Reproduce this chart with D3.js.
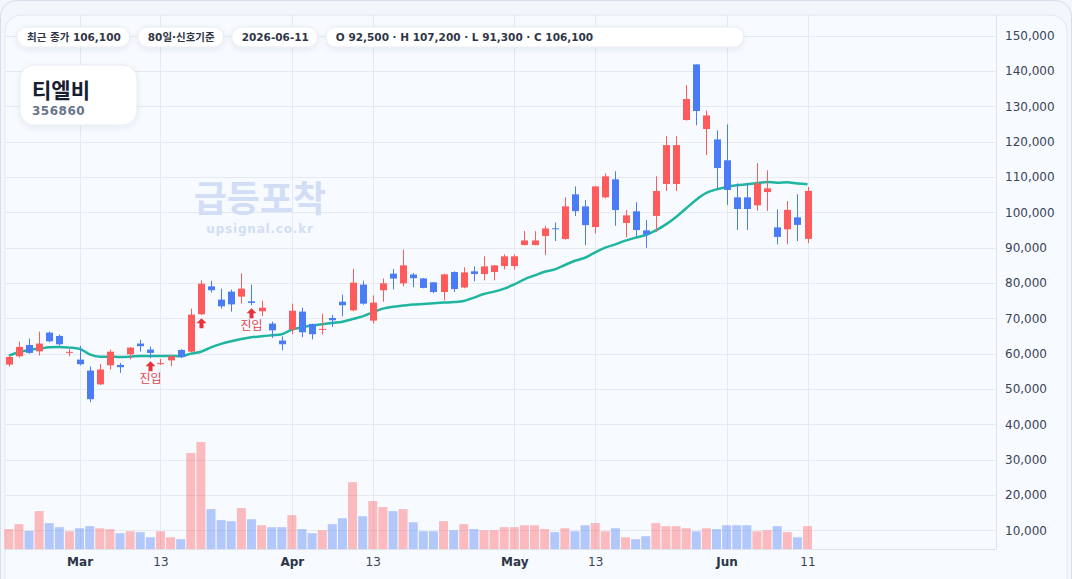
<!DOCTYPE html>
<html lang="ko">
<head>
<meta charset="utf-8">
<script src="https://cdn.jsdelivr.net/npm/d3@7"></script>
<style>
  html, body { margin: 0; padding: 0; background: #f3f6fb; }
  svg { display: block; font-family: "DejaVu Sans", "Noto Sans CJK KR", sans-serif; }
</style>
</head>
<body>
<svg id="chart"></svg>
<script>
"use strict";

// ---- data (80 trading days) ----
const dates = [
  "02-19","02-20","02-23","02-24","02-25","02-26","02-27",
  "03-03","03-04","03-05","03-06","03-09","03-10","03-11","03-12","03-13",
  "03-16","03-17","03-18","03-19","03-20","03-23","03-24","03-25","03-26","03-27","03-30","03-31",
  "04-01","04-02","04-03","04-06","04-07","04-08","04-09","04-10","04-13","04-14","04-15","04-16","04-17",
  "04-20","04-21","04-22","04-23","04-24","04-27","04-28","04-29","04-30",
  "05-01","05-04","05-05","05-06","05-07","05-08","05-11","05-12","05-13","05-14","05-15",
  "05-18","05-19","05-20","05-21","05-22","05-25","05-26","05-27","05-28","05-29",
  "06-01","06-02","06-03","06-04","06-05","06-08","06-09","06-10","06-11"
].map(d => "2026-" + d);

const opens = [
  56900, 59250, 62450, 60650, 65950, 65000, 60400, 58300, 55200, 51300,
  56700, 56800, 59800, 62850, 61150, 57100, 58100, 61050, 60550, 71150,
  79050, 75300, 77550, 76150, 74800, 72000, 68500, 63700, 66800, 71900,
  68400, 66900, 70100, 74700, 72250, 79550, 69350, 77950, 82650, 79900,
  82400, 81300, 80200, 77450, 83100, 78750, 83300, 82550, 83100, 84800,
  84800, 90750, 90750, 93300, 95500, 92450, 105100, 101700, 95850, 104250,
  109350, 97000, 100300, 94900, 99000, 108050, 108050, 126150, 141900, 123600,
  120650, 114750, 104250, 104250, 102000, 105750, 95750, 95200, 98600, 92500
];
const highs = [
  59450, 63400, 64250, 66250, 66250, 65400, 61400, 62200, 56350, 57100,
  61150, 57350, 61900, 63950, 62000, 58500, 59650, 61250, 72750, 80750,
  80650, 78400, 78100, 82750, 79550, 75000, 69050, 64900, 74150, 73000,
  68500, 71300, 70950, 76700, 84050, 80650, 76500, 81250, 83950, 89450,
  82800, 81400, 80200, 82650, 83300, 84450, 84700, 87550, 85100, 88100,
  88100, 94700, 94700, 96200, 97150, 104250, 107350, 103500, 107400, 111000,
  111650, 100700, 102850, 97850, 110200, 121600, 121600, 136050, 141900, 128850,
  123200, 124900, 108200, 108200, 113950, 111900, 100850, 103200, 105100, 107200
];
const lows = [
  56350, 58900, 60000, 59450, 63200, 62250, 59250, 56700, 46250, 51100,
  55500, 54550, 58400, 60550, 58700, 56800, 56450, 58800, 60400, 70900,
  77300, 72750, 71900, 74150, 73700, 70650, 64450, 60950, 65550, 64650,
  64050, 65400, 67550, 70550, 72000, 73850, 68500, 74700, 78200, 79050,
  78800, 78500, 77100, 75100, 77450, 78500, 80450, 80750, 80750, 83850,
  83850, 90650, 90650, 87900, 91900, 92300, 98950, 90750, 94050, 103950,
  96200, 92950, 93050, 89950, 94450, 106050, 106050, 126000, 124700, 116250,
  106800, 102100, 95000, 95000, 100500, 100400, 90950, 90950, 91900, 91300
];
const closes = [
  59050, 61900, 60200, 62850, 63500, 62650, 60500, 57000, 47100, 55500,
  60550, 56150, 61700, 62100, 60200, 57300, 59250, 59050, 71050, 79800,
  77950, 73400, 73950, 78400, 74350, 73000, 66600, 62650, 72150, 66050,
  65500, 67000, 69450, 73700, 80100, 74150, 74450, 79900, 81250, 85000,
  81350, 78600, 77450, 82450, 78300, 83000, 82550, 84700, 85000, 87550,
  87550, 92050, 92050, 95450, 95300, 101700, 100350, 96400, 107350, 110200,
  100650, 99150, 95000, 93800, 106050, 119050, 119050, 132100, 128700, 127450,
  112550, 106350, 100950, 100950, 108200, 106800, 93050, 100700, 96450, 106100
];
const volumes = [
  10300, 11700, 9800, 15400, 12000, 10850, 9700, 10550, 11150, 10550,
  10300, 9150, 9700, 9450, 8000, 9700, 8000, 7450, 31850, 34950,
  15950, 12850, 12550, 16250, 13100, 11400, 10850, 10850, 14250, 10300,
  9150, 10000, 11700, 13400, 23600, 13950, 18250, 16550, 15400, 15950,
  12250, 9700, 9700, 12550, 10000, 11700, 10300, 10000, 10000, 10850,
  10850, 11400, 11400, 10300, 9450, 10550, 9700, 11400, 12000, 9700,
  10550, 8000, 7450, 8300, 12000, 11150, 11150, 10550, 9700, 10550,
  10300, 11400, 11400, 11400, 9700, 10000, 11150, 9450, 8000, 11150
];
// moving average line as drawn on the chart
const maLine = [
  59450, 60400, 61050, 61400, 61800, 61900, 61700, 61350, 59800, 59150,
  59150, 59050, 59150, 59350, 59350, 59350, 59350, 59250, 60000, 60550,
  61750, 62750, 63500, 64150, 64650, 64900, 65200, 65500, 66800, 67450,
  67950, 68300, 68700, 69050, 69800, 70550, 71700, 72750, 73300, 73600,
  73900, 74050, 74250, 74450, 74600, 74900, 75850, 76900, 77550, 78400,
  79600, 81050, 82150, 83200, 83850, 85100, 86300, 87150, 88700, 90000,
  90950, 92000, 92850, 93600, 94900, 96600, 98700, 101150, 103600, 105500,
  106500, 107200, 107650, 107950, 108300, 108600, 108400, 108500, 108150, 107950
];

const markerDates = ["2026-03-12", "2026-03-19", "2026-03-26"];
const markerLabels = ["진입", "", "진입"];

const priceTicks = [150000, 140000, 130000, 120000, 110000, 100000, 90000, 80000,
                    70000, 60000, 50000, 40000, 30000, 20000, 10000];
const timeTicks = ["2026-03-03", "2026-03-13", "2026-04-01", "2026-04-13",
                   "2026-05-01", "2026-05-13", "2026-06-01", "2026-06-11"];
const timeTickLabels = ["Mar", "13", "Apr", "13", "May", "13", "Jun", "11"];
const timeTickMajor = [true, false, true, false, true, false, true, false];

const pills = ["최근 종가 106,100", "80일·신호기준", "2026-06-11",
               "O 92,500 · H 107,200 · L 91,300 · C 106,100"];

// ---- layout ----
const W = 1072, H = 579;
const plot = { left: 5, top: 15, right: 996, bottom: 549 };

const UP = "#ff5a5c", DOWN = "#4a7cf6", MA = "#1fb5a0";

const svg = d3.select("#chart").attr("width", W).attr("height", H);

const defs = svg.append("defs");
const shadow = defs.append("filter").attr("id", "shadow")
  .attr("x", "-20%").attr("y", "-40%").attr("width", "140%").attr("height", "200%");
shadow.append("feDropShadow").attr("dx", 0).attr("dy", 2).attr("stdDeviation", 3)
  .attr("flood-color", "#1e3050").attr("flood-opacity", 0.08);

// outer card + inner chart panel
svg.append("rect")
  .attr("x", 0.5).attr("y", 0.5).attr("width", W - 1).attr("height", H + 30)
  .attr("rx", 16).attr("fill", "#f3f6fb").attr("stroke", "#d8dfea");
svg.append("rect")
  .attr("x", plot.left).attr("y", plot.top).attr("width", 1067 - plot.left).attr("height", H)
  .attr("rx", 16).attr("fill", "#f7faff").attr("stroke", "#e3e8f0");

// ---- scales ----
const x = d3.scaleLinear().domain([0, dates.length - 1]).range([8.8, 807.5]);
const y = d3.scaleLinear().domain([4674, 155892]).range([plot.bottom, plot.top]);
const idx = d => dates.indexOf(d);

// ---- grid ----
const grid = svg.append("g").attr("stroke", "#e5e9f0").attr("stroke-width", 1);
grid.selectAll("line.h").data(priceTicks).join("line")
  .attr("x1", plot.left).attr("x2", plot.right)
  .attr("y1", d => Math.round(y(d)) + 0.5).attr("y2", d => Math.round(y(d)) + 0.5);
grid.selectAll("line.v").data(timeTicks).join("line")
  .attr("x1", d => Math.round(x(idx(d))) + 0.5).attr("x2", d => Math.round(x(idx(d))) + 0.5)
  .attr("y1", plot.top).attr("y2", plot.bottom);

// axis borders
svg.append("line").attr("x1", plot.right + 0.5).attr("x2", plot.right + 0.5)
  .attr("y1", plot.top).attr("y2", plot.bottom).attr("stroke", "#dde3ec");
svg.append("line").attr("x1", plot.left).attr("x2", plot.right)
  .attr("y1", plot.bottom + 0.5).attr("y2", plot.bottom + 0.5).attr("stroke", "#dde3ec");

// ---- watermark ----
svg.append("text").attr("x", 260).attr("y", 212).attr("text-anchor", "middle")
  .attr("font-size", 36).attr("font-weight", 700).attr("fill", "#d2def5")
  .attr("font-family", "Noto Sans CJK KR").text("급등포착");
svg.append("text").attr("x", 260).attr("y", 233).attr("text-anchor", "middle")
  .attr("font-size", 12).attr("font-weight", 700).attr("fill", "#d2def5")
  .attr("letter-spacing", 0.8).text("upsignal.co.kr");

// ---- volume ----
const bw = 9;
svg.append("g").selectAll("rect").data(volumes).join("rect")
  .attr("x", (d, i) => x(i) - bw / 2)
  .attr("width", bw)
  .attr("y", d => y(d))
  .attr("height", d => plot.bottom - y(d))
  .attr("fill", (d, i) => closes[i] >= opens[i] ? UP : DOWN)
  .attr("opacity", 0.4);

// ---- MA line ----
svg.append("path").datum(maLine)
  .attr("d", d3.line().x((d, i) => x(i)).y(d => y(d)).curve(d3.curveMonotoneX))
  .attr("fill", "none").attr("stroke", MA).attr("stroke-width", 2.5);

// ---- candles ----
const cw = 7;
const candles = svg.append("g").selectAll("g").data(dates).join("g")
  .attr("fill", (d, i) => closes[i] >= opens[i] ? UP : DOWN);
candles.append("rect")
  .attr("x", (d, i) => Math.round(x(i)))
  .attr("width", 1)
  .attr("y", (d, i) => y(highs[i]))
  .attr("height", (d, i) => y(lows[i]) - y(highs[i]));
candles.append("rect")
  .attr("x", (d, i) => Math.round(x(i)) - 3)
  .attr("width", cw)
  .attr("y", (d, i) => y(Math.max(opens[i], closes[i])))
  .attr("height", (d, i) => Math.max(1, Math.abs(y(opens[i]) - y(closes[i]))));

// ---- entry markers ----
const marks = svg.append("g").selectAll("g").data(markerDates).join("g")
  .attr("transform", d => `translate(${Math.round(x(idx(d))) + 0.5},${y(lows[idx(d)]) + 3})`);
marks.append("path")
  .attr("d", "M0,0 L5,5 L2,5 L2,10 L-2,10 L-2,5 L-5,5 Z")
  .attr("fill", "#e8333a");
marks.append("text")
  .attr("y", 22).attr("text-anchor", "middle")
  .attr("font-size", 12).attr("fill", "#e0454b")
  .attr("font-family", "Noto Sans CJK KR")
  .text((d, i) => markerLabels[i]);

// ---- axes ----
const yAxis = svg.append("g")
  .attr("transform", `translate(${plot.right + 3},0)`)
  .call(d3.axisRight(y).tickValues(priceTicks).tickFormat(d3.format(",")).tickSize(0).tickPadding(6));
yAxis.select(".domain").remove();
yAxis.selectAll("text").attr("font-size", 12).attr("fill", "#3b4456")
  .attr("font-family", "DejaVu Sans");

const xAxis = svg.append("g")
  .attr("transform", `translate(0,${plot.bottom})`)
  .call(d3.axisBottom(x).tickValues(timeTicks.map(idx))
    .tickFormat((d, i) => timeTickLabels[i]).tickSize(0).tickPadding(8));
xAxis.select(".domain").remove();
xAxis.selectAll("text").attr("font-size", 12).attr("font-family", "DejaVu Sans")
  .attr("fill", (d, i) => timeTickMajor[i] ? "#2c3445" : "#3b4456")
  .attr("font-weight", (d, i) => timeTickMajor[i] ? 700 : 400);

// ---- header pills ----
const pillG = svg.append("g");
let px = 17;
pills.forEach((t, i) => {
  const g = pillG.append("g");
  const rect = g.append("rect").attr("y", 27).attr("height", 20).attr("rx", 10)
    .attr("fill", "#ffffff").attr("stroke", "#e8ecf3").attr("filter", "url(#shadow)");
  const txt = g.append("text").attr("x", px + 10).attr("y", 41)
    .attr("font-size", 10.5).attr("font-weight", 700).attr("fill", "#2f3747").text(t);
  let w = txt.node().getComputedTextLength() + 19;
  if (i === pills.length - 1) w = Math.max(w, 418);
  rect.attr("x", px).attr("width", w);
  px += w + 8;
});

// ---- title card ----
svg.append("rect").attr("x", 20).attr("y", 65).attr("width", 117).attr("height", 60)
  .attr("rx", 14).attr("fill", "#ffffff").attr("stroke", "#e8ecf3").attr("filter", "url(#shadow)");
svg.append("text").attr("x", 32).attr("y", 98)
  .attr("font-family", "Noto Sans CJK KR").attr("font-size", 21).attr("font-weight", 700)
  .attr("fill", "#172033").text("티엘비");
svg.append("text").attr("x", 32).attr("y", 115)
  .attr("font-size", 12).attr("font-weight", 700).attr("letter-spacing", 0.5)
  .attr("fill", "#66758c").text("356860");
</script>
</body>
</html>
